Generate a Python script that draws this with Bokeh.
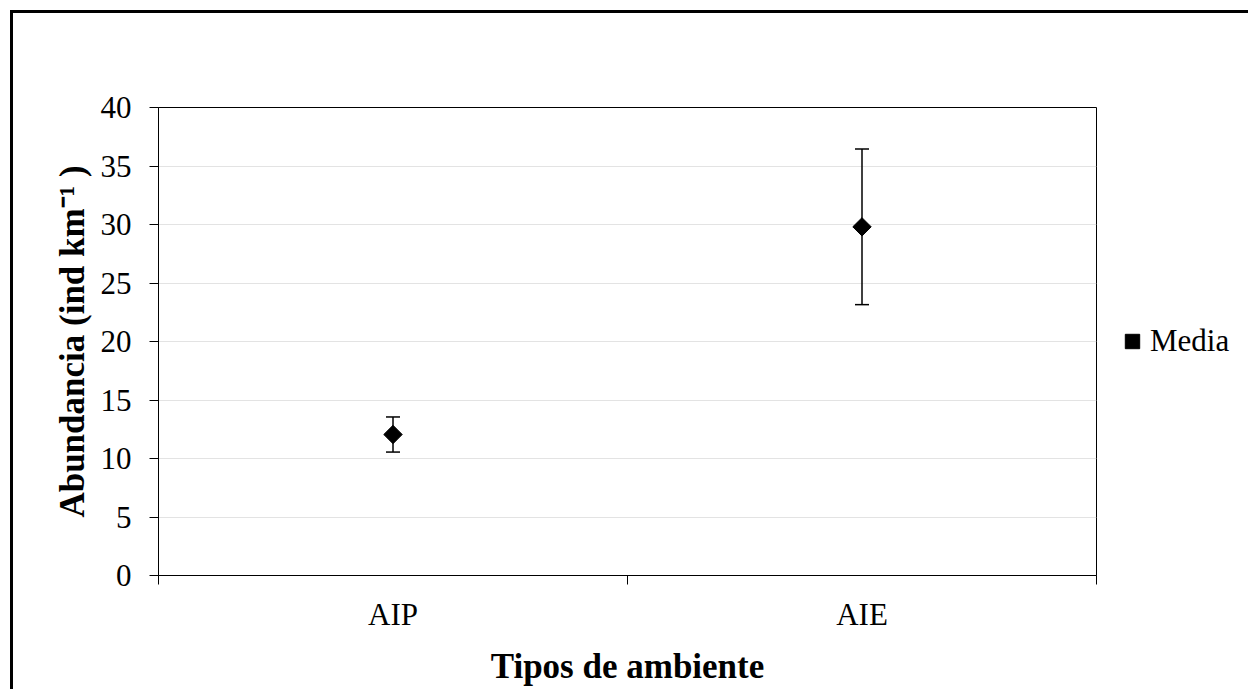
import numpy as np
from bokeh.plotting import figure
from bokeh.models import (ColumnDataSource, Whisker, TeeHead, FixedTicker, Legend, LegendItem,
                          Range1d)
from bokeh.embed import file_html
from bokeh.resources import INLINE

categories = ["AIP", "AIE"]
means = [12.05, 29.8]
errors = [1.5, 6.65]
y_ticks = [0, 5, 10, 15, 20, 25, 30, 35, 40]
legend_label = "Media"

xpos = [i + 0.5 for i in range(len(categories))]
lower = [m - e for m, e in zip(means, errors)]
upper = [m + e for m, e in zip(means, errors)]
src = ColumnDataSource(dict(x=xpos, y=means, lower=lower, upper=upper))

OFF = 13  # outer border offset (10px margin + 3px border)
FL, FR, FT, FB = 158 - OFF, 1096 - OFF, 107 - OFF, 575 - OFF

p = figure(frame_width=FR - FL, frame_height=FB - FT,
           output_backend="svg", toolbar_location=None,
           x_range=Range1d(0, len(categories)), y_range=Range1d(0, 40),
           min_border_left=FL, min_border_right=0,
           min_border_top=FT, min_border_bottom=689 - 575)
p.styles = {"margin-left": "10px", "margin-top": "10px",
            "border-left": "3px solid black", "border-top": "3px solid black"}
p.background_fill_color = "white"
p.border_fill_color = "white"
p.outline_line_color = "black"
p.outline_line_width = 1

FONT = "Liberation Serif"

# y axis
p.yaxis.ticker = FixedTicker(ticks=y_ticks)
p.yaxis.major_tick_out = 9
p.yaxis.major_tick_in = 0
p.yaxis.minor_tick_out = 0
p.yaxis.minor_tick_in = 0
p.yaxis.axis_line_color = "black"
p.yaxis.major_tick_line_color = "black"
p.yaxis.major_label_text_font = FONT
p.yaxis.major_label_text_font_size = "31px"
p.yaxis.major_label_text_color = "black"
p.yaxis.major_label_standoff = 18
p.yaxis.axis_label = "Abundancia (ind km\u207b\u00b9 )"
p.yaxis.axis_label_text_font = FONT
p.yaxis.axis_label_text_font_style = "bold"
p.yaxis.axis_label_text_font_size = "35px"
p.yaxis.axis_label_text_color = "black"
p.yaxis.axis_label_standoff = 6

# x axis
p.xaxis.ticker = FixedTicker(ticks=xpos, minor_ticks=list(range(len(categories) + 1)))
p.xaxis.major_label_overrides = {x: c for x, c in zip(xpos, categories)}
p.xaxis.major_tick_out = 0
p.xaxis.major_tick_in = 0
p.xaxis.minor_tick_out = 9
p.xaxis.minor_tick_in = 0
p.xaxis.minor_tick_line_color = "black"
p.xaxis.axis_line_color = "black"
p.xaxis.major_label_text_font = FONT
p.xaxis.major_label_text_font_size = "31px"
p.xaxis.major_label_text_color = "black"
p.xaxis.major_label_standoff = 12
p.xaxis.axis_label = "Tipos de ambiente"
p.xaxis.axis_label_text_font = FONT
p.xaxis.axis_label_text_font_style = "bold"
p.xaxis.axis_label_text_font_size = "35px"
p.xaxis.axis_label_text_color = "black"
p.xaxis.axis_label_standoff = 12

p.xgrid.grid_line_color = None
p.ygrid.grid_line_color = "#e3e3e3"
p.ygrid.grid_line_width = 1

wh = Whisker(source=src, base="x", lower="lower", upper="upper", dimension="height",
             line_color="black", line_width=1.5,
             upper_head=TeeHead(size=14, line_color="black", line_width=1.5),
             lower_head=TeeHead(size=14, line_color="black", line_width=1.5))
p.add_layout(wh)

r = p.scatter("x", "y", source=src, marker="square", angle=np.pi / 4, size=13,
              fill_color="black", line_color="black")

legend = Legend(items=[LegendItem(label=legend_label, renderers=[r])],
                location="left", orientation="vertical",
                background_fill_alpha=0, border_line_color=None,
                label_text_font=FONT, label_text_font_size="31px",
                label_text_color="black", glyph_width=36, glyph_height=36,
                label_standoff=0, padding=0, margin=18)
p.add_layout(legend, "right")

open("out.html", "w").write(file_html(p, INLINE))
